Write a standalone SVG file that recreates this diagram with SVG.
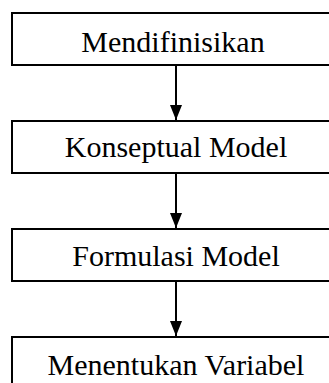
<svg xmlns="http://www.w3.org/2000/svg" width="329" height="383" viewBox="0 0 329 383">
  <style>
    .box { fill: #ffffff; stroke: #000000; stroke-width: 2; }
    .label { font-family: "Liberation Serif", "Times New Roman", serif; font-size: 30px; fill: #000000; text-anchor: middle; }
    .link { stroke: #000000; stroke-width: 2; fill: none; marker-end: url(#head); }
  </style>
  <defs>
    <!-- solid triangular arrowhead, tip at the end of the line -->
    <marker id="head" markerWidth="15" markerHeight="12" refX="15" refY="6" orient="auto" markerUnits="userSpaceOnUse" viewBox="0 0 15 12">
      <path d="M0,0 L15,6 L0,12 Z" fill="#000000"/>
    </marker>
  </defs>
  <rect width="329" height="383" fill="#ffffff"/>

  <g id="connectors">
    <line class="link" x1="176" y1="65" x2="176" y2="120"/>
    <line class="link" x1="176" y1="173" x2="176" y2="228"/>
    <line class="link" x1="176" y1="281" x2="176" y2="336"/>
  </g>

  <g id="node-mendifinisikan">
    <rect class="box" x="12" y="13" width="330" height="52"/>
    <text class="label" x="173" y="52">Mendifinisikan</text>
  </g>
  <g id="node-konseptual-model">
    <rect class="box" x="12" y="121" width="330" height="52"/>
    <text class="label" x="176" y="157">Konseptual Model</text>
  </g>
  <g id="node-formulasi-model">
    <rect class="box" x="12" y="229" width="330" height="52"/>
    <text class="label" x="176" y="266">Formulasi Model</text>
  </g>
  <g id="node-menentukan-variabel">
    <rect class="box" x="12" y="337" width="330" height="60"/>
    <text class="label" x="176" y="375">Menentukan Variabel</text>
  </g>
</svg>
